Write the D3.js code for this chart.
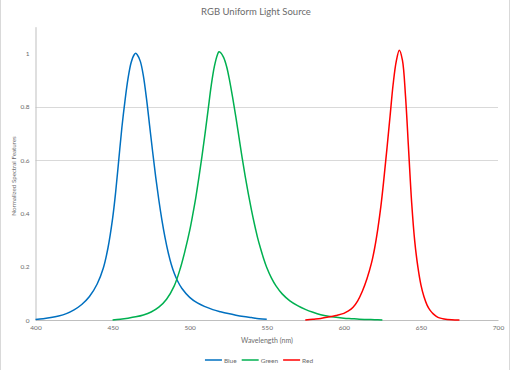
<!DOCTYPE html>
<html><head><meta charset="utf-8">
<script src="https://cdn.jsdelivr.net/npm/d3@7"></script>
<style>body{margin:0;background:#fff}svg{display:block}text{font-family:Lato,"Open Sans",sans-serif;fill:#595959}</style>
</head><body><svg id="c" width="513" height="370"></svg>
<script>
const title = "RGB Uniform Light Source";
const xTitle = "Wavelength (nm)";
const yTitle = "Normalized Spectral Features";
const xTicks = [400, 450, 500, 550, 600, 650, 700];
const yTicks = [0, 0.2, 0.4, 0.6, 0.8, 1];
const gridTicks = [0.6, 0.8];
const seriesNames = ["Blue", "Green", "Red"];
const seriesColors = ["#0070C0", "#00B050", "#FF0000"];

const blueWl = [400,405,410,415,420,425,430,435,440,444,447,450,452,454,456,458,460,462,464,465,466,468,470,472,474,476,478,480,482,484,486,488,490,492,495,500,505,510,515,520,525,530,535,540,545,550];
const blueVal = [0.002,0.005,0.009,0.015,0.024,0.038,0.058,0.088,0.135,0.195,0.27,0.38,0.48,0.60,0.72,0.82,0.905,0.965,0.995,1.0,0.995,0.97,0.915,0.83,0.73,0.63,0.535,0.45,0.375,0.31,0.255,0.21,0.175,0.148,0.118,0.085,0.064,0.05,0.039,0.031,0.024,0.018,0.013,0.009,0.005,0.003];

const greenWl = [450,455,460,465,470,475,480,485,490,494,497,500,502,504,506,508,510,512,514,516,518,519,520,522,524,526,528,530,532,534,536,538,540,542,544,546,548,550,553,556,560,565,570,575,580,585,590,595,600,605,610,615,620,625];
const greenVal = [0.0,0.003,0.007,0.012,0.019,0.03,0.048,0.078,0.128,0.195,0.26,0.335,0.395,0.46,0.535,0.615,0.70,0.79,0.88,0.95,0.995,1.006,1.003,0.985,0.95,0.895,0.83,0.76,0.685,0.61,0.54,0.475,0.415,0.36,0.31,0.268,0.23,0.197,0.158,0.128,0.098,0.072,0.054,0.04,0.029,0.02,0.014,0.01,0.007,0.005,0.003,0.002,0.001,0.0];

const redWl = [575,580,585,590,595,600,603,606,609,612,615,618,620,622,624,626,628,630,632,634,636,638,640,642,644,646,648,650,652,654,656,658,660,662,665,670,675];
const redVal = [0.0,0.003,0.006,0.011,0.017,0.025,0.034,0.048,0.072,0.108,0.155,0.215,0.27,0.34,0.425,0.53,0.645,0.765,0.885,0.97,1.012,0.975,0.84,0.64,0.44,0.295,0.2,0.132,0.087,0.056,0.036,0.023,0.014,0.008,0.004,0.001,0.0];

const series = [
  {name: seriesNames[0], color: seriesColors[0], pts: blueWl.map((w,i)=>[w, blueVal[i]])},
  {name: seriesNames[1], color: seriesColors[1], pts: greenWl.map((w,i)=>[w, greenVal[i]])},
  {name: seriesNames[2], color: seriesColors[2], pts: redWl.map((w,i)=>[w, redVal[i]])}
];

const svg = d3.select("#c");
const x = d3.scaleLinear().domain([400, 700]).range([35.5, 498]);
const y = d3.scaleLinear().domain([0, 1.1]).range([320, 26.7]);

// outer frame sides
svg.append("line").attr("x1",0.5).attr("x2",0.5).attr("y1",0).attr("y2",370).attr("stroke","#d9d9d9");
svg.append("line").attr("x1",509.5).attr("x2",509.5).attr("y1",0).attr("y2",370).attr("stroke","#d9d9d9");

// gridlines
svg.append("g").selectAll("line").data(gridTicks).join("line")
  .attr("x1", x(400)).attr("x2", x(700))
  .attr("y1", d => Math.round(y(d))+0.5).attr("y2", d => Math.round(y(d))+0.5)
  .attr("stroke", "#d9d9d9").attr("stroke-width", 1);

// axes
const xAxis = svg.append("g").attr("transform", `translate(0,${y(0)})`)
  .call(d3.axisBottom(x).tickValues(xTicks).tickSize(0).tickPadding(5).tickFormat(d3.format("d")));
xAxis.select(".domain").attr("stroke", "#bfbfbf");
xAxis.selectAll("text").attr("font-size", 6.5).style("fill","#6b6b6b");

const yAxis = svg.append("g").attr("transform", `translate(${x(400)},0)`)
  .call(d3.axisLeft(y).tickValues(yTicks).tickSize(0).tickPadding(6).tickFormat(d => d === 0 ? "0" : d === 1 ? "1" : String(d)));
yAxis.select(".domain").attr("stroke", "#bfbfbf");
yAxis.selectAll("text").attr("font-size", 6.5).style("fill","#6b6b6b");

// lines
const line = d3.line().x(d => x(d[0])).y(d => y(d[1])).curve(d3.curveCatmullRom.alpha(0.5));
svg.append("g").selectAll("path").data(series).join("path")
  .attr("d", d => line(d.pts)).attr("fill", "none")
  .attr("stroke", d => d.color).attr("stroke-width", 1.5).attr("stroke-linejoin","round");

// titles
svg.append("text").attr("x", 256).attr("y", 15).attr("text-anchor", "middle")
  .attr("font-size", 9.5).style("fill","#6b6b6b").text(title);
svg.append("text").attr("x", 267).attr("y", 343).attr("text-anchor", "middle")
  .attr("font-size", 7).style("fill","#6b6b6b").text(xTitle);
svg.append("text").attr("transform", "translate(16,176) rotate(-90)").attr("text-anchor", "middle")
  .attr("font-size", 6.2).style("fill","#6b6b6b").text(yTitle);

// legend
const leg = svg.append("g");
const lineLen = 17, gap = 2, itemGap = 5, fs = 6.5;
let items = series.map(s => {
  const t = leg.append("text").attr("font-size", fs).attr("y", 362.5).style("fill","#6b6b6b").text(s.name);
  return {s, t, w: t.node().getComputedTextLength()};
});
const total = d3.sum(items, d => lineLen + gap + d.w) + itemGap * (items.length - 1);
let cx = 259 - total / 2;
items.forEach(d => {
  leg.append("line").attr("x1", cx).attr("x2", cx + lineLen).attr("y1", 360).attr("y2", 360)
    .attr("stroke", d.s.color).attr("stroke-width", 1.5);
  d.t.attr("x", cx + lineLen + gap);
  cx += lineLen + gap + d.w + itemGap;
});
</script></body></html>
